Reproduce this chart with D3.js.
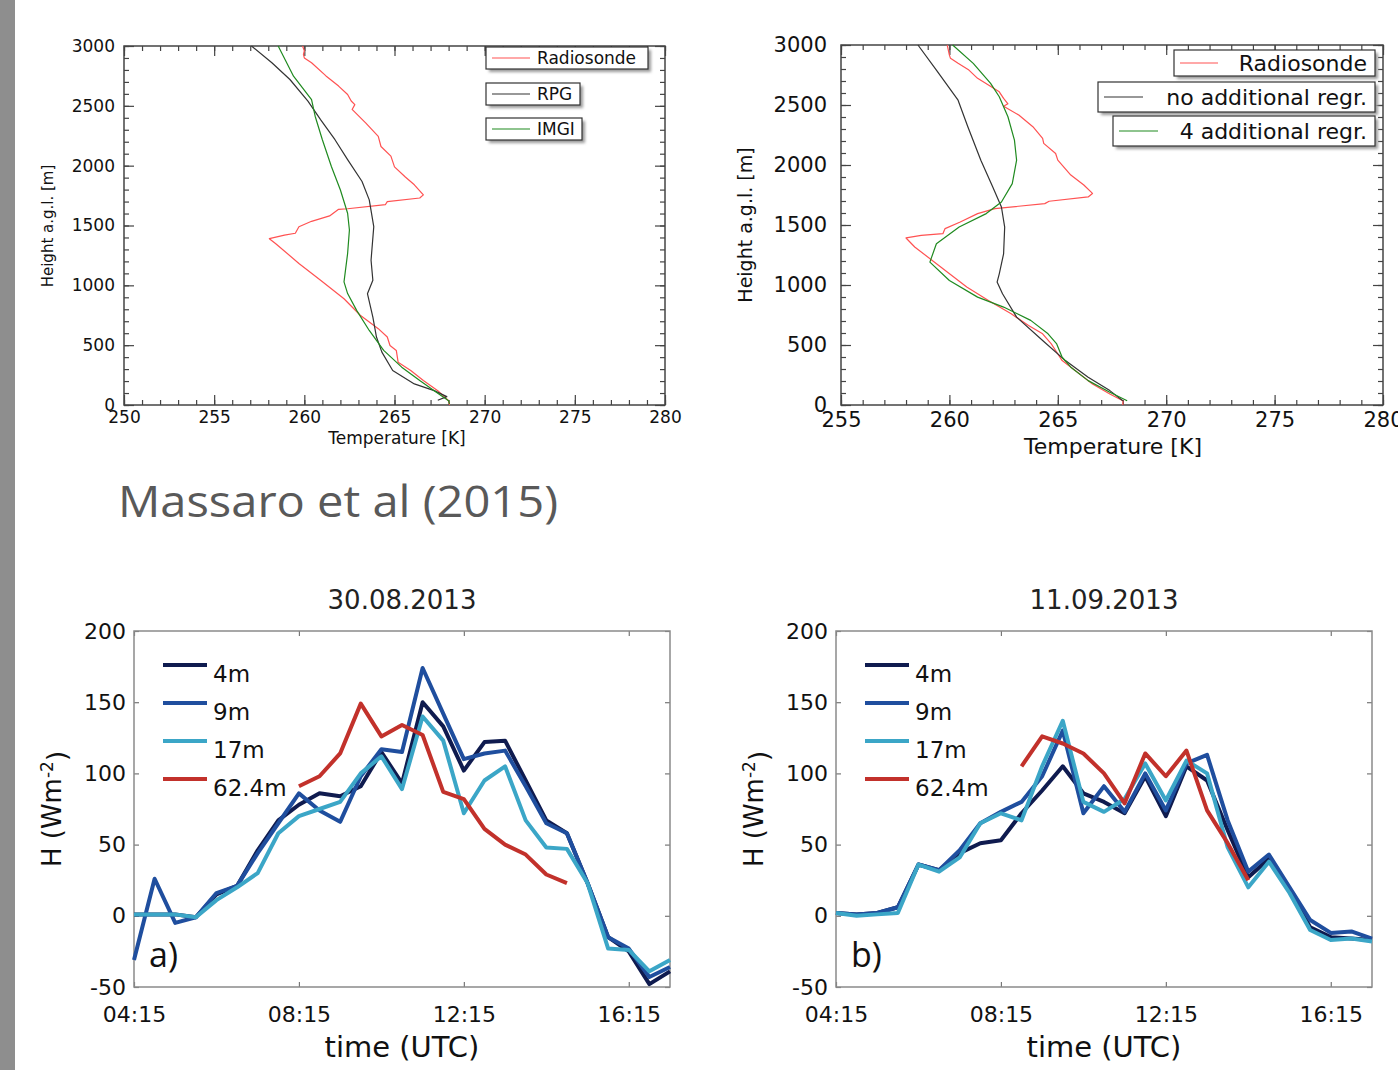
<!DOCTYPE html>
<html>
<head>
<meta charset="utf-8">
<script src="https://cdn.jsdelivr.net/npm/d3@7"></script>
<style>
  body { margin: 0; background: #fff; }
  svg { display: block; }
</style>
</head>
<body>
<svg id="chart" width="1398" height="1070"></svg>
<script>
// ---- temperature profiles: [temperature K, height m] ----
var tlRadiosonde = [[259.9,3000],[260.0,2960],[259.95,2930],[260.0,2900],[260.4,2860],[261.2,2750],[261.9,2665],[262.4,2595],[262.6,2540],[262.8,2510],[262.65,2470],[263.4,2357],[264.1,2245],[264.25,2160],[264.8,2080],[265.0,1990],[265.6,1905],[266.1,1840],[266.6,1756],[266.4,1730],[264.6,1700],[264.5,1675],[262.4,1640],[261.9,1635],[261.4,1580],[260.4,1535],[259.7,1490],[259.5,1435],[258.9,1420],[258.06,1390],[258.4,1350],[259.7,1183],[260.9,1042],[262.2,888],[263.1,750],[264.1,638],[264.6,568],[264.75,497],[265.1,456],[265.2,358],[265.9,288],[266.6,204],[267.4,120],[268.0,36],[268.05,0]];
var tlRPG = [[257.07,3000],[258.2,2860],[259.2,2720],[260.2,2540],[260.9,2385],[261.7,2217],[262.4,2050],[263.2,1868],[263.6,1714],[263.85,1490],[263.7,1210],[263.8,1042],[263.5,930],[263.8,735],[264.0,568],[264.3,442],[264.9,288],[266.1,176],[267.2,120],[267.9,70],[267.4,40]];
var tlIMGI = [[258.55,3000],[259.4,2748],[260.4,2552],[260.6,2413],[261.0,2217],[261.5,1993],[262.0,1797],[262.4,1602],[262.5,1462],[262.4,1266],[262.2,1029],[262.4,931],[262.9,791],[263.6,623],[264.4,456],[265.4,316],[266.4,204],[267.2,120],[268.0,36],[268.05,10]];

var trRadiosonde = [[259.9,3000],[260.0,2916],[260.05,2889],[260.4,2847],[260.9,2791],[261.3,2722],[261.8,2666],[262.3,2610],[262.5,2555],[262.7,2510],[262.5,2490],[263.2,2416],[263.85,2319],[264.3,2221],[264.35,2180],[264.9,2096],[265.0,2041],[265.6,1916],[266.2,1833],[266.6,1763],[266.4,1734],[264.6,1698],[264.4,1678],[262.1,1637],[261.3,1595],[260.5,1525],[259.8,1470],[259.7,1428],[258.7,1414],[258.0,1392],[258.4,1317],[259.6,1150],[260.8,983],[261.8,871],[262.85,760],[263.65,662],[264.3,593],[264.7,509],[264.9,454],[265.2,370],[265.8,287],[266.6,175],[267.4,92],[268.0,36],[268.0,0]];
var trNoAdditional = [[258.55,3000],[259.4,2791],[260.4,2540],[260.85,2319],[261.45,2040],[262.0,1817],[262.4,1650],[262.55,1483],[262.5,1260],[262.3,1093],[262.2,1024],[262.45,927],[263.1,732],[264.3,537],[265.35,370],[266.4,231],[267.4,120],[268.0,36]];
var trFourAdditional = [[260.15,3000],[261.1,2847],[261.9,2680],[262.3,2569],[262.7,2402],[263.0,2207],[263.1,2040],[262.9,1845],[262.4,1692],[261.7,1595],[260.45,1483],[259.4,1344],[259.1,1191],[260.0,1038],[261.3,899],[262.5,816],[263.75,705],[264.55,593],[264.95,509],[265.2,398],[265.6,315],[266.4,203],[267.4,106],[268.2,36]];

var heightTicks = [0, 500, 1000, 1500, 2000, 2500, 3000];
var tempTicksA = [250, 255, 260, 265, 270, 275, 280];
var tempTicksB = [255, 260, 265, 270, 275, 280];

// ---- sensible heat flux, half-hourly from 04:15 ----
var fluxStart = 4.25;
var timeTicks = [4.25, 8.25, 12.25, 16.25];
var timeTickLabels = ["04:15", "08:15", "12:15", "16:15"];
var fluxTicks = [-50, 0, 50, 100, 150, 200];
var heightLabels = ["4m", "9m", "17m", "62.4m"];

var aug4m  = [1, 1, 1, -1, 15, 21, 46, 67, 78, 86, 84, 91, 115, 93, 150, 133, 102, 122, 123, 95, 67, 58, 23, -15, -25, -48, -39];
var aug9m  = [-31, 26, -5, -1, 16, 21, 44, 65, 86, 74, 66, 98, 117, 115, 174, 142, 110, 114, 116, 91, 65, 58, 23, -15, -23, -43, -36];
var aug17m = [1, 1, 1, -1, 11, 20, 30, 58, 70, 75, 80, 100, 112, 89, 140, 123, 72, 95, 105, 67, 48, 47, 23, -23, -24, -39, -31];
var aug62m = [null, null, null, null, null, null, null, null, 91, 98, 114, 149, 126, 134, 127, 87, 82, 61, 50, 43, 29, 23, null, null, null, null, null];

var sep4m  = [2, 1, 2, 6, 36, 32, 44, 51, 53, 72, 88, 105, 86, 80, 72, 98, 70, 105, 95, 60, 27, 40, 18, -8, -15, -16, -17];
var sep9m  = [2, 1, 2, 6, 36, 32, 46, 65, 73, 80, 98, 130, 72, 91, 73, 100, 74, 107, 113, 67, 31, 43, 20, -3, -12, -11, -16];
var sep17m = [2, 0, 1, 2, 36, 31, 41, 65, 72, 67, 105, 137, 80, 73, 82, 107, 81, 109, 100, 48, 20, 38, 16, -10, -17, -16, -18];
var sep62m = [null, null, null, null, null, null, null, null, null, 105, 126, 121, 114, 100, 79, 114, 98, 116, 74, 51, 25, null, null, null, null, null, null];

var FONT = "DejaVu Sans";
var svg = d3.select("#chart");

svg.append("rect").attr("width", 1398).attr("height", 1070).attr("fill", "#fff");
svg.append("rect").attr("x", 0).attr("y", 0).attr("width", 15).attr("height", 1070).attr("fill", "#8e8e8e");

svg.append("defs").append("filter").attr("id", "shadow")
  .append("feGaussianBlur").attr("stdDeviation", 1.5);

// plain hyphen minus like the original figure
var plainNum = d => String(d);

// inner-pointing ticks, no domain path
function addAxis(g, axis, tr, cfg) {
  var a = g.append("g").attr("transform", tr).call(axis);
  a.select(".domain").remove();
  a.selectAll("line").attr("stroke", cfg.tickColor).attr("stroke-width", 1.2);
  a.selectAll("text").attr("font-family", FONT).attr("font-size", cfg.tickFont).attr("fill", "#111");
  return a;
}

function drawProfile(c) {
  var g = svg.append("g");
  var x = d3.scaleLinear().domain([c.xTicks[0], c.xTicks[c.xTicks.length - 1]]).range([c.left, c.right]);
  var y = d3.scaleLinear().domain([0, 3000]).range([c.bottom, c.top]);
  var xMinor = d3.range(x.domain()[0], x.domain()[1] + 0.5, 1);
  var yMinor = d3.range(0, 3001, 100);

  // minor ticks on all four sides
  addAxis(g, d3.axisBottom(x).tickValues(xMinor).tickSize(-5).tickFormat(""), "translate(0," + c.bottom + ")", c);
  addAxis(g, d3.axisTop(x).tickValues(xMinor).tickSize(-5).tickFormat(""), "translate(0," + c.top + ")", c);
  addAxis(g, d3.axisLeft(y).tickValues(yMinor).tickSize(-5).tickFormat(""), "translate(" + c.left + ",0)", c);
  addAxis(g, d3.axisRight(y).tickValues(yMinor).tickSize(-5).tickFormat(""), "translate(" + c.right + ",0)", c);
  // major ticks + labels
  addAxis(g, d3.axisBottom(x).tickValues(c.xTicks).tickSize(-10).tickPadding(c.xPad).tickFormat(plainNum), "translate(0," + c.bottom + ")", c);
  addAxis(g, d3.axisTop(x).tickValues(c.xTicks).tickSize(-10).tickFormat(""), "translate(0," + c.top + ")", c);
  addAxis(g, d3.axisLeft(y).tickValues(heightTicks).tickSize(-10).tickPadding(c.yPad).tickFormat(plainNum), "translate(" + c.left + ",0)", c);
  addAxis(g, d3.axisRight(y).tickValues(heightTicks).tickSize(-10).tickFormat(""), "translate(" + c.right + ",0)", c);

  g.append("rect")
    .attr("x", c.left).attr("y", c.top)
    .attr("width", c.right - c.left).attr("height", c.bottom - c.top)
    .attr("fill", "none").attr("stroke", "#444").attr("stroke-width", 1.5);

  var line = d3.line().x(d => x(d[0])).y(d => y(d[1]));
  c.series.forEach(function (s) {
    g.append("path").datum(s.data)
      .attr("d", line)
      .attr("fill", "none")
      .attr("stroke", s.color)
      .attr("stroke-width", 1.2)
      .attr("stroke-linejoin", "round");
  });

  // legend: one shadowed box per series
  c.series.forEach(function (s, i) {
    var b = c.legend[i];
    g.append("rect").attr("x", b.x + 3).attr("y", b.y + 3).attr("width", b.w).attr("height", b.h)
      .attr("fill", "#9a9a9a").attr("filter", "url(#shadow)");
    g.append("rect").attr("x", b.x).attr("y", b.y).attr("width", b.w).attr("height", b.h)
      .attr("fill", "#fff").attr("stroke", "#333").attr("stroke-width", 1.2);
    g.append("line").attr("x1", b.lx1).attr("x2", b.lx2)
      .attr("y1", b.y + b.h / 2).attr("y2", b.y + b.h / 2)
      .attr("stroke", s.color).attr("stroke-width", 1.2);
    g.append("text").attr("x", b.tx).attr("y", b.y + b.h / 2)
      .attr("dy", "0.36em")
      .attr("text-anchor", b.anchor)
      .attr("font-family", FONT).attr("font-size", c.legendFont)
      .attr("fill", "#111")
      .text(s.label);
  });

  g.append("text")
    .attr("x", c.xTitle[0]).attr("y", c.xTitle[1])
    .attr("text-anchor", "middle")
    .attr("font-family", FONT).attr("font-size", c.titleFont).attr("fill", "#111")
    .text("Temperature [K]");
  g.append("text")
    .attr("transform", "translate(" + c.yTitle[0] + "," + c.yTitle[1] + ") rotate(-90)")
    .attr("text-anchor", "middle")
    .attr("dy", "0.36em")
    .attr("font-family", FONT).attr("font-size", c.yTitleFont).attr("fill", "#111")
    .text("Height a.g.l. [m]");
}

drawProfile({
  left: 124, right: 665, top: 46, bottom: 405,
  xTicks: tempTicksA, tickFont: 17, xPad: 6, yPad: 9, tickColor: "#444",
  titleFont: 17, yTitleFont: 15, legendFont: 17,
  xTitle: [397, 444], yTitle: [48, 226],
  series: [
    { label: "Radiosonde", data: tlRadiosonde, color: "#ff5252" },
    { label: "RPG", data: tlRPG, color: "#333333" },
    { label: "IMGI", data: tlIMGI, color: "#1f8a1f" }
  ],
  legend: [
    { x: 486, y: 47, w: 162, h: 22, lx1: 492, lx2: 530, tx: 537, anchor: "start" },
    { x: 486, y: 83, w: 94, h: 22, lx1: 492, lx2: 530, tx: 537, anchor: "start" },
    { x: 486, y: 118, w: 96, h: 22, lx1: 492, lx2: 530, tx: 537, anchor: "start" }
  ]
});

drawProfile({
  left: 841, right: 1383, top: 45, bottom: 405,
  xTicks: tempTicksB, tickFont: 21, xPad: 7, yPad: 14, tickColor: "#444",
  titleFont: 22, yTitleFont: 19, legendFont: 22,
  xTitle: [1113, 454], yTitle: [745, 225],
  series: [
    { label: "Radiosonde", data: trRadiosonde, color: "#ff5252" },
    { label: "no additional regr.", data: trNoAdditional, color: "#333333" },
    { label: "4 additional regr.", data: trFourAdditional, color: "#1f8a1f" }
  ],
  legend: [
    { x: 1174, y: 50, w: 201, h: 26, lx1: 1180, lx2: 1218, tx: 1367, anchor: "end" },
    { x: 1098, y: 82, w: 277, h: 30, lx1: 1104, lx2: 1143, tx: 1367, anchor: "end" },
    { x: 1113, y: 116, w: 262, h: 30, lx1: 1119, lx2: 1158, tx: 1367, anchor: "end" }
  ]
});

svg.append("text")
  .attr("x", 118).attr("y", 517)
  .attr("font-family", "Open Sans").attr("font-size", 43)
  .attr("fill", "#595959")
  .attr("textLength", 440).attr("lengthAdjust", "spacingAndGlyphs")
  .text("Massaro et al (2015)");

var fluxColors = ["#0f1b4f", "#1f4e9e", "#3ba6c7", "#c2312b"];

function drawFlux(c) {
  var g = svg.append("g");
  var x = d3.scaleLinear().domain([fluxStart, fluxStart + 13]).range([c.left, c.right]);
  var y = d3.scaleLinear().domain([-50, 200]).range([c.bottom, c.top]);
  var cfg = { tickColor: "#777", tickFont: 22 };

  addAxis(g, d3.axisBottom(x).tickValues(timeTicks).tickSize(-5).tickPadding(19)
    .tickFormat((d, i) => timeTickLabels[i]), "translate(0," + c.bottom + ")", cfg);
  addAxis(g, d3.axisTop(x).tickValues(timeTicks).tickSize(-5).tickFormat(""), "translate(0," + c.top + ")", cfg);
  addAxis(g, d3.axisLeft(y).tickValues(fluxTicks).tickSize(-5).tickPadding(8).tickFormat(plainNum), "translate(" + c.left + ",0)", cfg);
  addAxis(g, d3.axisRight(y).tickValues(fluxTicks).tickSize(-5).tickFormat(""), "translate(" + c.right + ",0)", cfg);

  g.append("rect")
    .attr("x", c.left).attr("y", c.top)
    .attr("width", c.right - c.left).attr("height", c.bottom - c.top)
    .attr("fill", "none").attr("stroke", "#8a8a8a").attr("stroke-width", 1.5);

  var line = d3.line()
    .defined(d => d != null)
    .x((d, i) => x(fluxStart + i * 0.5))
    .y(d => y(d));

  c.series.forEach(function (s, k) {
    g.append("path").datum(s)
      .attr("d", line)
      .attr("fill", "none")
      .attr("stroke", fluxColors[k])
      .attr("stroke-width", 4)
      .attr("stroke-linejoin", "round");
  });

  // legend
  heightLabels.forEach(function (lab, k) {
    var ly = c.top + 34 + k * 38;
    g.append("line")
      .attr("x1", c.left + 29).attr("x2", c.left + 73)
      .attr("y1", ly).attr("y2", ly)
      .attr("stroke", fluxColors[k]).attr("stroke-width", 4);
    g.append("text")
      .attr("x", c.left + 79).attr("y", ly + 17)
      .attr("font-family", FONT).attr("font-size", 23).attr("fill", "#111")
      .text(lab);
  });

  g.append("text")
    .attr("x", c.left + 15).attr("y", 967)
    .attr("font-family", "Open Sans").attr("font-size", 34).attr("fill", "#111")
    .text(c.panel);

  var cx = (c.left + c.right) / 2;
  g.append("text")
    .attr("x", cx).attr("y", 609)
    .attr("text-anchor", "middle")
    .attr("font-family", FONT).attr("font-size", 26).attr("fill", "#222")
    .text(c.title);
  g.append("text")
    .attr("x", cx).attr("y", 1057)
    .attr("text-anchor", "middle")
    .attr("font-family", FONT).attr("font-size", 29).attr("fill", "#111")
    .text("time (UTC)");

  var yl = g.append("text")
    .attr("transform", "translate(" + (c.left - 82) + "," + ((c.top + c.bottom) / 2) + ") rotate(-90)")
    .attr("text-anchor", "middle")
    .attr("dy", "0.36em")
    .attr("font-family", FONT).attr("font-size", 26).attr("fill", "#111");
  yl.append("tspan").text("H (Wm");
  yl.append("tspan").attr("dy", "-0.5em").attr("font-size", 17).text("-2");
  yl.append("tspan").attr("dy", "0.5em").text(")");
}

drawFlux({ left: 134, right: 670, top: 631, bottom: 987, title: "30.08.2013", panel: "a)",
  series: [aug4m, aug9m, aug17m, aug62m] });
drawFlux({ left: 836, right: 1372, top: 631, bottom: 987, title: "11.09.2013", panel: "b)",
  series: [sep4m, sep9m, sep17m, sep62m] });
</script>
</body>
</html>
